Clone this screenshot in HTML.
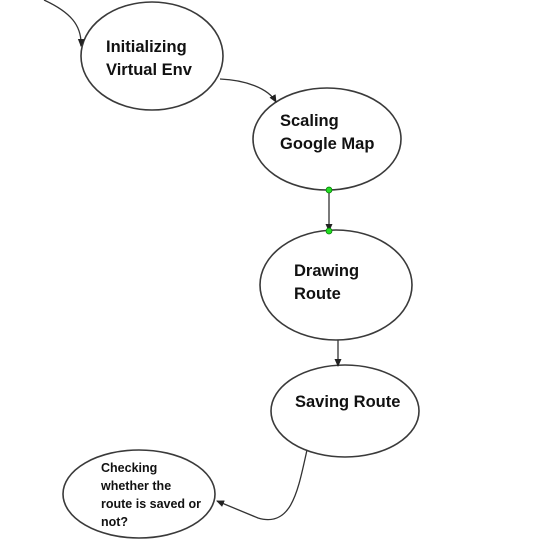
<!DOCTYPE html>
<html><head><style>body{margin:0;background:#fff}svg{display:block}</style></head><body>
<svg width="548" height="547" xmlns="http://www.w3.org/2000/svg">
<defs><marker id="a" markerWidth="8" markerHeight="8" refX="7" refY="4" orient="auto" markerUnits="userSpaceOnUse"><path d="M0,0.5 L8,4 L0,7.5Z" fill="#222"/></marker></defs>
<g fill="none" stroke="#3a3a3a" stroke-width="1.6">
<ellipse cx="152" cy="56" rx="71" ry="54"/>
<ellipse cx="327" cy="139" rx="74" ry="51"/>
<ellipse cx="336" cy="285" rx="76" ry="55"/>
<ellipse cx="345" cy="411" rx="74" ry="46"/>
<ellipse cx="139" cy="494" rx="76" ry="44"/>
</g>
<g fill="none" stroke="#333" stroke-width="1.3">
<path d="M44,0 C70,12 82,25 81,46" marker-end="url(#a)"/>
<path d="M220,79 C245,80 268,88 276,102" marker-end="url(#a)"/>
<path d="M329,190 L329,231" marker-end="url(#a)"/>
<path d="M338,340 L338,366" marker-end="url(#a)"/>
<path d="M307,450 C298,490 292,528 258,518 L217,501" marker-end="url(#a)"/>
</g>
<circle cx="329" cy="190" r="3" fill="#2d2" stroke="#070" stroke-width="0.7"/>
<circle cx="329" cy="231" r="3" fill="#2d2" stroke="#070" stroke-width="0.7"/>
<g font-family="Liberation Sans, sans-serif" font-weight="bold" font-size="16.5" fill="#111">
<text x="106" y="52">Initializing</text><text x="106" y="75">Virtual Env</text>
<text x="280" y="126">Scaling</text><text x="280" y="149">Google Map</text>
<text x="294" y="276">Drawing</text><text x="294" y="299">Route</text>
<text x="295" y="407">Saving Route</text>
</g>
<g font-family="Liberation Sans, sans-serif" font-weight="bold" font-size="12.5" fill="#111">
<text x="101" y="472">Checking</text><text x="101" y="490">whether the</text><text x="101" y="508">route is saved or</text><text x="101" y="526">not?</text>
</g>
</svg>
</body></html>
